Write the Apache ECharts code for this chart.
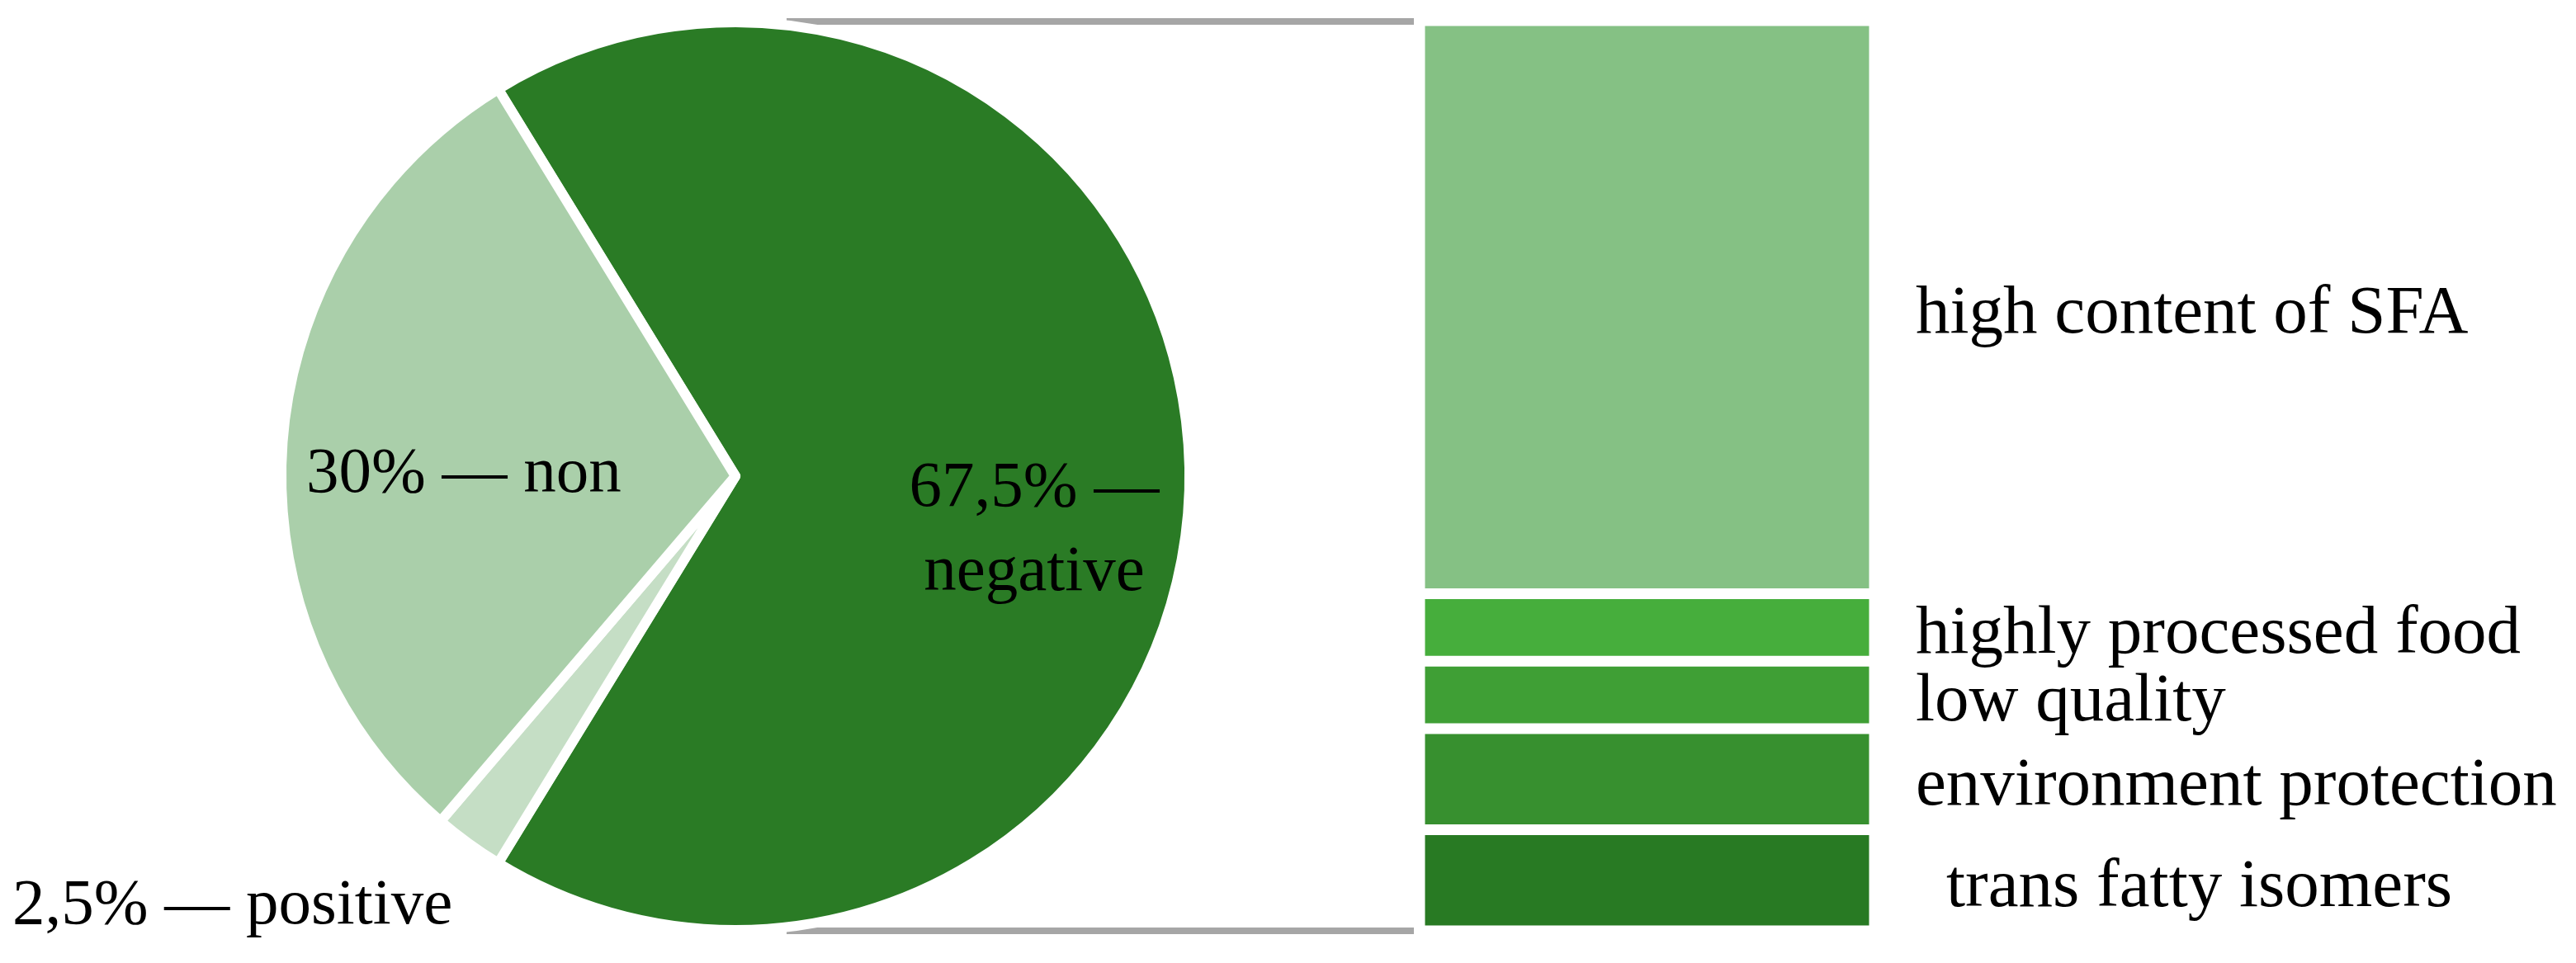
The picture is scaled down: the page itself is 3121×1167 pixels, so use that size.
<!DOCTYPE html>
<html>
<head>
<meta charset="utf-8">
<script src="https://cdn.jsdelivr.net/npm/echarts@6/dist/echarts.min.js"></script>
<style>
  html, body { margin: 0; padding: 0; background: #ffffff; }
  #chart { width: 3121px; height: 1167px; }
</style>
</head>
<body>
<div id="chart"></div>
<script>
// ---- data ----
const pieNames = ['negative', 'positive', 'non'];
const pieValues = [67.5, 2.5, 30];
const pieLabels = ['67,5% —\nnegative', '2,5% — positive', '30% — non'];

const barNames = ['high content of SFA', 'highly processed food', 'low quality', 'environment protection', 'trans fatty isomers'];
const barValues = [42.5, 5, 5, 7.5, 7.5];

// ---- styles ----
const pieColors = ['#2a7b25', '#c5dec5', '#aacfaa'];
const barColors = ['#85c184', '#46ae3c', '#3f9f35', '#37902f', '#287a23'];
const FONT = 'Liberation Serif';
const pieCenter = [891, 577];
const pieRadius = 550;
const labelShift = [[84, 66], [-446, 296], [-52, 20]];
const barLabelDist = [50, 50, 50, 50, 87];
const gridBox = { left: 1720, top: 25, width: 551, height: 1103 };

const chart = echarts.init(document.getElementById('chart'), null, { renderer: 'canvas' });

const barSeries = barNames.map((name, i) => ({
  type: 'bar',
  name: name,
  stack: 'neg',
  barWidth: '100%',
  xAxisIndex: 0,
  yAxisIndex: 0,
  data: [barValues[i]],
  itemStyle: { color: barColors[i], borderColor: '#ffffff', borderWidth: 6.5 },
  label: {
    show: true,
    position: 'right',
    distance: barLabelDist[i],
    offset: [0, 9],
    formatter: () => name,
    fontFamily: FONT,
    fontSize: 83,
    color: '#000000'
  },
  emphasis: { disabled: true },
  silent: true
}));

const lineX0 = 953;
const lineX1 = gridBox.left - 7;

chart.setOption({
  animation: false,
  backgroundColor: '#ffffff',
  grid: { left: gridBox.left, top: gridBox.top, width: gridBox.width, height: gridBox.height, containLabel: false },
  xAxis: { type: 'category', data: ['negative'], show: false },
  yAxis: { type: 'value', min: 0, max: 67.5, inverse: true, show: false },
  graphic: [
    { type: 'line', shape: { x1: lineX0, y1: 26, x2: lineX1, y2: 26 }, style: { stroke: '#a6a6a6', lineWidth: 8 }, z: -1 },
    { type: 'line', shape: { x1: lineX0, y1: 1128, x2: lineX1, y2: 1128 }, style: { stroke: '#a6a6a6', lineWidth: 8 }, z: -1 }
  ],
  series: [
    {
      type: 'pie',
      center: pieCenter,
      radius: pieRadius,
      startAngle: 121.5,
      clockwise: true,
      avoidLabelOverlap: false,
      silent: true,
      data: pieNames.map((n, i) => ({ name: n, value: pieValues[i], itemStyle: { color: pieColors[i] } })),
      itemStyle: { borderColor: '#ffffff', borderWidth: 12 },
      label: {
        show: true,
        position: 'inside',
        formatter: (p) => pieLabels[p.dataIndex],
        fontFamily: FONT,
        fontSize: 79,
        lineHeight: 102,
        color: '#000000'
      },
      labelLine: { show: false },
      labelLayout: (p) => ({ dx: labelShift[p.dataIndex][0], dy: labelShift[p.dataIndex][1] }),
      emphasis: { disabled: true }
    }
  ].concat(barSeries)
});
</script>
</body>
</html>
